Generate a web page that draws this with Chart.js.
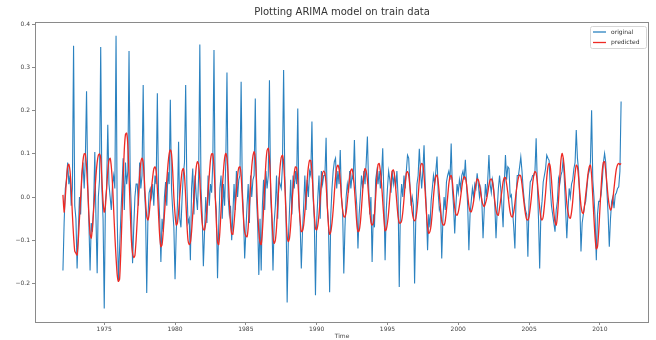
<!DOCTYPE html>
<html>
<head>
<meta charset="utf-8">
<script src="https://cdn.jsdelivr.net/npm/chart.js@4.4.1/dist/chart.umd.min.js"></script>
<style>
  html, body { margin: 0; padding: 0; background: #fff; }
  #wrap { width: 656px; height: 340px; }
</style>
</head>
<body>
<div id="wrap"><canvas id="arimaChart" width="656" height="340"></canvas></div>
<script>
// Monthly series, first point is Feb 1972
const startYear = 1972;
const startMonth = 1;

const original = [
  -0.17, -0.06, 0.02, 0.04, 0.08, 0.03, 0.05, -0.02, 0.02, 0.35, -0.02,
  -0.05, -0.165, -0.08, 0.0, -0.04, 0.05, 0.08, 0.02, 0.09, 0.245, 0.03, -0.06,
  -0.17, -0.06, -0.08, -0.02, 0.104, -0.05, -0.176, 0.0, 0.04, 0.347, 0.02, -0.05,
  -0.258, -0.01, 0.02, 0.167, 0.03, 0.0, -0.03, 0.03, 0.05, 0.02, 0.373, -0.05,
  -0.196, -0.12, -0.05, 0.02, 0.09, -0.03, 0.08, 0.03, 0.06, 0.338, 0.04, -0.03,
  -0.153, -0.07, 0.0, 0.03, 0.03, -0.02, 0.08, 0.02, 0.05, 0.259, 0.02, -0.03,
  -0.222, -0.05, 0.01, 0.02, 0.0, 0.03, -0.02, 0.05, 0.03, 0.24, 0.01, -0.05,
  -0.15, -0.05, -0.08, 0.0, 0.035, -0.02, 0.058, 0.03, 0.225, 0.02, -0.03, -0.07,
  -0.19, -0.08, -0.02, 0.128, -0.05, -0.07, 0.0, 0.05, 0.08, 0.259, 0.03, -0.06,
  -0.05, -0.146, 0.02, 0.066, -0.04, 0.05, 0.0, -0.03, 0.05, 0.353, 0.02, -0.04,
  -0.16, -0.08, 0.0, -0.06, 0.05, -0.02, 0.03, 0.01, 0.08, 0.34, 0.0, -0.03,
  -0.188, -0.07, 0.02, 0.05, -0.05, 0.03, -0.02, 0.08, 0.288, 0.0, -0.04, -0.02,
  -0.10, -0.04, 0.03, -0.03, 0.06, 0.0, 0.04, 0.05, 0.267, 0.02, -0.04, -0.142,
  -0.08, -0.02, 0.03, -0.06, 0.05, 0.0, 0.04, 0.05, 0.228, 0.0, -0.06, -0.18,
  -0.05, -0.17, -0.02, 0.04, -0.03, 0.06, 0.02, 0.05, 0.27, 0.0, -0.05, -0.17,
  -0.06, -0.02, 0.05, -0.05, 0.04, 0.03, 0.02, 0.07, 0.294, 0.05, -0.03, -0.244,
  -0.10, -0.03, 0.04, -0.04, 0.05, 0.02, 0.06, 0.03, 0.205, -0.02, -0.06, -0.165,
  -0.08, -0.02, 0.05, -0.03, 0.04, 0.0, 0.06, 0.05, 0.175, 0.0, -0.05, -0.227,
  -0.06, 0.0, 0.05, -0.05, 0.06, 0.03, 0.05, 0.05, 0.137, -0.02, -0.06, -0.22,
  -0.04, 0.02, 0.06, 0.082, 0.09, 0.02, 0.06, 0.03, 0.109, 0.0, -0.03, -0.177,
  -0.07, 0.0, 0.03, 0.01, 0.06, 0.02, 0.05, 0.04, 0.132, 0.02, -0.02, -0.119,
  -0.04, 0.0, 0.05, 0.02, 0.06, 0.03, 0.08, 0.14, 0.03, -0.04, 0.0, -0.15,
  -0.04, -0.07, 0.04, 0.06, 0.03, 0.06, 0.02, 0.05, 0.113, 0.0, -0.146, -0.03,
  0.02, 0.06, 0.04, 0.01, 0.06, 0.03, 0.05, 0.02, 0.06, 0.0, -0.208, -0.02,
  0.03, 0.0, 0.05, 0.02, 0.06, 0.097, 0.09, 0.03, -0.02, 0.0, -0.02, -0.2,
  -0.05, 0.03, 0.05, 0.112, 0.06, 0.02, 0.06, 0.12, 0.03, -0.03, -0.123, -0.04,
  -0.07, -0.01, 0.02, 0.05, 0.03, 0.06, 0.094, 0.01, -0.03, -0.02, -0.142, -0.05,
  0.0, -0.03, 0.035, 0.05, 0.06, 0.04, 0.124, 0.02, -0.02, -0.084, -0.02, 0.03,
  0.01, 0.04, 0.02, 0.05, 0.06, 0.04, 0.086, 0.03, -0.02, -0.123, -0.04, -0.01,
  0.02, 0.0, 0.03, 0.02, 0.055, 0.03, 0.0, 0.02, -0.01, -0.095, -0.03, 0.03,
  0.0, 0.04, 0.097, 0.03, 0.01, 0.04, 0.02, -0.02, -0.095, -0.03, 0.02, 0.05,
  0.02, -0.02, -0.07, 0.03, 0.097, 0.04, 0.07, 0.066, 0.0, 0.005, -0.03, -0.07,
  -0.119, 0.0, 0.05, 0.05, 0.07, 0.093, 0.06, 0.02, -0.01, -0.03, -0.04, -0.138,
  -0.01, 0.035, 0.04, 0.05, 0.05, 0.06, 0.136, 0.03, -0.05, -0.165, -0.04, -0.01,
  0.035, 0.05, 0.066, 0.097, 0.09, 0.085, 0.02, -0.02, -0.04, -0.06, -0.08, -0.03,
  -0.01, 0.043, 0.03, 0.05, 0.06, 0.09, 0.035, -0.03, -0.095, -0.03, 0.02, 0.0,
  0.03, 0.04, 0.066, 0.08, 0.155, 0.09, 0.06, -0.01, -0.126, -0.06, -0.04, -0.02,
  -0.01, 0.02, 0.05, 0.06, 0.08, 0.201, 0.04, 0.0, -0.05, -0.146, -0.04, -0.01,
  -0.01, 0.005, 0.035, 0.08, 0.101, 0.08, 0.012, -0.04, -0.115, -0.05, -0.01, 0.0,
  -0.026, 0.005, 0.01, 0.02, 0.024, 0.06, 0.221
];

const predicted = [
  0.005, -0.035, 0.0, 0.04, 0.07, 0.076, 0.06, 0.02, -0.04, -0.09, -0.125,
  -0.13, -0.134, -0.10, -0.05, 0.0, 0.05, 0.085, 0.10, 0.10, 0.07, 0.02, -0.04,
  -0.085, -0.095, -0.07, -0.03, 0.01, 0.05, 0.08, 0.097, 0.10, 0.09, 0.04, -0.01,
  -0.035, -0.02, 0.02, 0.06, 0.085, 0.09, 0.07, 0.03, -0.03, -0.09, -0.14, -0.18,
  -0.195, -0.19, -0.13, -0.05, 0.04, 0.11, 0.145, 0.148, 0.12, 0.05, -0.03, -0.10,
  -0.13, -0.14, -0.135, -0.10, -0.05, 0.0, 0.05, 0.08, 0.09, 0.08, 0.04, -0.01,
  -0.045, -0.053, -0.04, -0.01, 0.02, 0.045, 0.065, 0.07, 0.06, 0.02, -0.04, -0.09,
  -0.115, -0.11, -0.08, -0.04, 0.0, 0.04, 0.075, 0.10, 0.109, 0.10, 0.06, 0.0,
  -0.04, -0.065, -0.06, -0.035, 0.0, 0.035, 0.06, 0.066, 0.05, 0.0, -0.06, -0.10,
  -0.11, -0.105, -0.08, -0.04, 0.0, 0.04, 0.07, 0.082, 0.075, 0.04, -0.02, -0.06,
  -0.075, -0.076, -0.06, -0.03, 0.01, 0.05, 0.085, 0.10, 0.10, 0.07, 0.01, -0.06,
  -0.105, -0.11, -0.08, -0.03, 0.02, 0.06, 0.09, 0.101, 0.09, 0.05, -0.01, -0.06,
  -0.085, -0.086, -0.06, -0.025, 0.015, 0.05, 0.068, 0.07, 0.05, 0.0, -0.05, -0.08,
  -0.09, -0.092, -0.07, -0.02, 0.03, 0.07, 0.095, 0.105, 0.09, 0.04, -0.03, -0.08,
  -0.105, -0.11, -0.08, -0.03, 0.03, 0.08, 0.108, 0.113, 0.09, 0.03, -0.04, -0.09,
  -0.107, -0.10, -0.07, -0.02, 0.03, 0.07, 0.092, 0.097, 0.08, 0.03, -0.04, -0.09,
  -0.103, -0.095, -0.065, -0.02, 0.02, 0.055, 0.07, 0.068, 0.04, -0.01, -0.055, -0.08,
  -0.078, -0.065, -0.035, 0.0, 0.04, 0.07, 0.085, 0.084, 0.06, 0.01, -0.04, -0.073,
  -0.076, -0.065, -0.04, -0.005, 0.03, 0.055, 0.06, 0.055, 0.03, -0.02, -0.065, -0.086,
  -0.08, -0.06, -0.03, 0.01, 0.045, 0.068, 0.074, 0.065, 0.04, 0.0, -0.03, -0.045,
  -0.046, -0.035, -0.01, 0.02, 0.045, 0.062, 0.065, 0.05, 0.02, -0.02, -0.06, -0.08,
  -0.078, -0.06, -0.025, 0.015, 0.05, 0.066, 0.06, 0.04, 0.005, -0.03, -0.058, -0.065,
  -0.06, -0.04, 0.0, 0.045, 0.075, 0.078, 0.06, 0.03, -0.01, -0.05, -0.078, -0.075,
  -0.06, -0.035, 0.0, 0.035, 0.06, 0.063, 0.05, 0.02, -0.015, -0.045, -0.06, -0.06,
  -0.055, -0.035, -0.005, 0.03, 0.055, 0.059, 0.05, 0.025, -0.005, -0.035, -0.05, -0.055,
  -0.05, -0.03, 0.0, 0.04, 0.07, 0.078, 0.075, 0.05, 0.01, -0.035, -0.07, -0.084,
  -0.08, -0.065, -0.035, 0.0, 0.03, 0.048, 0.051, 0.035, 0.005, -0.03, -0.055, -0.064,
  -0.065, -0.055, -0.03, 0.0, 0.03, 0.047, 0.05, 0.035, 0.005, -0.025, -0.04, -0.042,
  -0.035, -0.02, 0.0, 0.022, 0.04, 0.047, 0.045, 0.03, 0.005, -0.02, -0.033, -0.034,
  -0.025, -0.01, 0.01, 0.03, 0.042, 0.04, 0.028, 0.01, -0.008, -0.018, -0.022, -0.015,
  -0.005, 0.01, 0.028, 0.04, 0.042, 0.035, 0.015, -0.01, -0.03, -0.04, -0.042, -0.025,
  -0.005, 0.015, 0.035, 0.045, 0.045, 0.03, 0.01, -0.015, -0.035, -0.045, -0.046, -0.035,
  -0.015, 0.01, 0.03, 0.045, 0.051, 0.048, 0.03, 0.005, -0.02, -0.04, -0.052, -0.053,
  -0.045, -0.025, 0.0, 0.03, 0.05, 0.059, 0.055, 0.035, 0.005, -0.025, -0.048, -0.053,
  -0.045, -0.02, 0.01, 0.045, 0.07, 0.078, 0.07, 0.04, 0.0, -0.035, -0.058, -0.065,
  -0.045, -0.005, 0.045, 0.085, 0.101, 0.09, 0.06, 0.02, -0.015, -0.035, -0.047, -0.049,
  -0.035, -0.01, 0.025, 0.055, 0.074, 0.07, 0.045, 0.01, -0.02, -0.035, -0.038, -0.02,
  0.005, 0.03, 0.055, 0.07, 0.074, 0.05, 0.0, -0.05, -0.095, -0.12, -0.115, -0.08,
  -0.03, 0.02, 0.06, 0.08, 0.082, 0.06, 0.03, 0.0, -0.02, -0.03, -0.025, -0.005,
  0.02, 0.045, 0.065, 0.075, 0.078, 0.075, 0.078
];

const yearTicks = [1975, 1980, 1985, 1990, 1995, 2000, 2005, 2010];
const valueTicks = [-0.2, -0.1, 0.0, 0.1, 0.2, 0.3, 0.4];

const toPoints = series =>
  series.map((v, i) => ({ x: startYear + (startMonth + i) / 12, y: v }));

const tickFont = { family: "DejaVu Sans", size: 6 };

// axes frame, title and legend, drawn the matplotlib way
const decorations = {
  id: "decorations",
  afterDraw(chart) {
    const { ctx, chartArea: a } = chart;
    ctx.save();
    ctx.strokeStyle = "#8a8a8a";
    ctx.lineWidth = 1;
    ctx.strokeRect(Math.round(a.left) + 0.5, Math.round(a.top) + 0.5,
      Math.round(a.right - a.left) - 1, Math.round(a.bottom - a.top));

    ctx.fillStyle = "#333";
    ctx.font = '10px "DejaVu Sans"';
    ctx.textAlign = "center";
    ctx.textBaseline = "middle";
    ctx.fillText("Plotting ARIMA model on train data", (a.left + a.right) / 2, 12);

    // legend box, top right
    const lx = a.right - 59, ly = a.top + 4;
    ctx.beginPath();
    ctx.roundRect(lx + 0.5, ly + 0.5, 56, 22, 2);
    ctx.fillStyle = "rgba(255,255,255,0.85)";
    ctx.fill();
    ctx.strokeStyle = "#d6d6d6";
    ctx.stroke();
    const items = [["original", "#2b82c0"], ["predicted", "#ee2a24"]];
    items.forEach(([label, color], i) => {
      const y = ly + 6 + i * 10.5;
      ctx.beginPath();
      ctx.moveTo(lx + 3, y);
      ctx.lineTo(lx + 16, y);
      ctx.strokeStyle = color;
      ctx.lineWidth = 1.3;
      ctx.stroke();
      ctx.fillStyle = "#333";
      ctx.font = '6px "DejaVu Sans"';
      ctx.textAlign = "left";
      ctx.fillText(label, lx + 21, y);
    });
    ctx.restore();
  }
};

const ctx = document.getElementById("arimaChart").getContext("2d");
new Chart(ctx, {
  type: "line",
  data: {
    datasets: [
      {
        label: "original",
        data: toPoints(original),
        borderColor: "#2b82c0",
        borderWidth: 1.1,
        pointRadius: 0,
        tension: 0,
        order: 1
      },
      {
        label: "predicted",
        data: toPoints(predicted),
        borderColor: "#ee2a24",
        borderWidth: 1.3,
        pointRadius: 0,
        tension: 0.2,
        order: 0
      }
    ]
  },
  options: {
    responsive: false,
    devicePixelRatio: 1,
    animation: false,
    layout: { padding: { top: 22, right: 7, bottom: 0, left: 0 } },
    plugins: {
      legend: { display: false },
      title: { display: false },
      tooltip: { enabled: false }
    },
    scales: {
      x: {
        type: "linear",
        min: 1970.11,
        max: 2013.47,
        afterBuildTicks: s => { s.ticks = yearTicks.map(v => ({ value: v })); },
        afterFit: s => { s.height = 18; },
        ticks: {
          font: tickFont,
          color: "#444",
          padding: 1,
          autoSkip: false,
          maxRotation: 0,
          callback: v => String(v)
        },
        grid: { drawOnChartArea: false, drawTicks: true, tickLength: 3, color: "#8a8a8a" },
        border: { display: false },
        title: { display: true, text: "Time", font: tickFont, color: "#444", padding: 0 }
      },
      y: {
        type: "linear",
        min: -0.289,
        max: 0.405,
        afterBuildTicks: s => { s.ticks = valueTicks.map(v => ({ value: v })); },
        afterFit: s => { s.width = 35; },
        ticks: {
          font: tickFont,
          color: "#444",
          padding: 2,
          callback: v => v.toFixed(1).replace("-", "\u2212")
        },
        grid: { drawOnChartArea: false, drawTicks: true, tickLength: 3, color: "#8a8a8a" },
        border: { display: false }
      }
    }
  },
  plugins: [decorations]
});
</script>
</body>
</html>
